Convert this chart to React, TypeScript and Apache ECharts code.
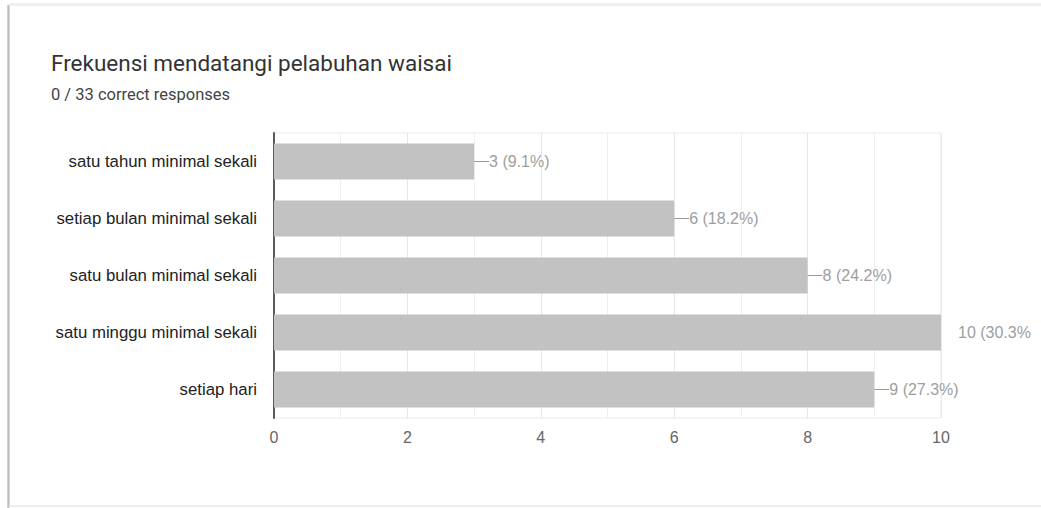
import React, { useEffect, useRef } from "react";
import * as echarts from "echarts";

const titleText = "Frekuensi mendatangi pelabuhan waisai";
const subtitleText = "0 / 33 correct responses";
const categories = [
  "satu tahun minimal sekali",
  "setiap bulan minimal sekali",
  "satu bulan minimal sekali",
  "satu minggu minimal sekali",
  "setiap hari",
];
const values = [3, 6, 8, 10, 9];
const percents = ["9.1%", "18.2%", "24.2%", "30.3%", "27.3%"];
const xTicks = [0, 2, 4, 6, 8, 10];

export default function App() {
  const ref = useRef<HTMLDivElement>(null);
  useEffect(() => {
    if (!ref.current) return;
    const chart = echarts.init(ref.current, null, { renderer: "svg" });
    const maxVal = Math.max(...values);
    chart.setOption({
      animation: false,
      backgroundColor: "#ffffff",
      graphic: [
        { type: "rect", shape: { x: 7, y: 5, width: 3, height: 503 }, style: { fill: "#d4d4d4" } },
        { type: "rect", shape: { x: 8, y: 5, width: 1, height: 503 }, style: { fill: "#bdbdbd" } },
        { type: "rect", shape: { x: 9, y: 3, width: 1032, height: 3 }, style: { fill: "#efefef" } },
        { type: "rect", shape: { x: 9, y: 505, width: 1032, height: 2 }, style: { fill: "#eeeeee" } },
        {
          type: "text",
          x: 51,
          y: 63,
          style: {
            text: titleText,
            font: "22.5px Roboto",
            fill: "#333333",
            verticalAlign: "middle",
          },
        },
        {
          type: "text",
          x: 51,
          y: 94,
          style: {
            text: subtitleText,
            font: "16.5px Roboto",
            fill: "#444444",
            verticalAlign: "middle",
          },
        },
      ],
      grid: {
        left: 274,
        right: 100,
        top: 133,
        bottom: 90,
        show: true,
        borderColor: "#ececec",
        borderWidth: 1,
      },
      xAxis: {
        type: "value",
        min: xTicks[0],
        max: xTicks[xTicks.length - 1],
        interval: 2,
        axisLine: { show: false },
        axisTick: { show: false },
        splitLine: { show: true, lineStyle: { color: "#e8e8e8", width: 1 } },
        minorTick: { show: false, splitNumber: 2 },
        minorSplitLine: { show: true, lineStyle: { color: "#efefef", width: 1 } },
        axisLabel: {
          color: "#666666",
          fontFamily: "Liberation Sans",
          fontSize: 16,
          margin: 11,
        },
      },
      yAxis: {
        type: "category",
        data: categories,
        inverse: true,
        axisLine: { show: true, lineStyle: { color: "#5a5a5a", width: 2 } },
        axisTick: { show: false },
        splitLine: { show: false },
        axisLabel: {
          color: "#222222",
          fontFamily: "Liberation Sans",
          fontSize: 16.8,
          margin: 17,
        },
      },
      series: [
        {
          type: "bar",
          barWidth: 36,
          itemStyle: { color: "#c2c2c2" },
          data: values.map((v) =>
            v === maxVal
              ? {
                  value: v,
                  label: {
                    distance: 17,
                    width: 75,
                    overflow: "truncate",
                    ellipsis: "",
                  },
                }
              : v
          ),
          label: {
            show: true,
            position: "right",
            distance: 0,
            color: "#9e9e9e",
            fontFamily: "Liberation Sans",
            fontSize: 16,
            formatter: (p: any) => {
              const t = `${p.value} (${percents[p.dataIndex]})`;
              return p.value === maxVal ? t : `{l| }{v|${t}}`;
            },
            rich: {
              l: {
                width: 15,
                height: 1,
                backgroundColor: "#9a9a9a",
                verticalAlign: "middle",
                fontSize: 1,
              },
              v: {
                color: "#9e9e9e",
                fontFamily: "Liberation Sans",
                fontSize: 16,
                verticalAlign: "middle",
              },
            },
          },
        },
      ],
    });
    return () => chart.dispose();
  }, []);
  return (
    <div
      ref={ref}
      style={{ position: "fixed", left: 0, top: 0, width: 1041, height: 508 }}
    />
  );
}
